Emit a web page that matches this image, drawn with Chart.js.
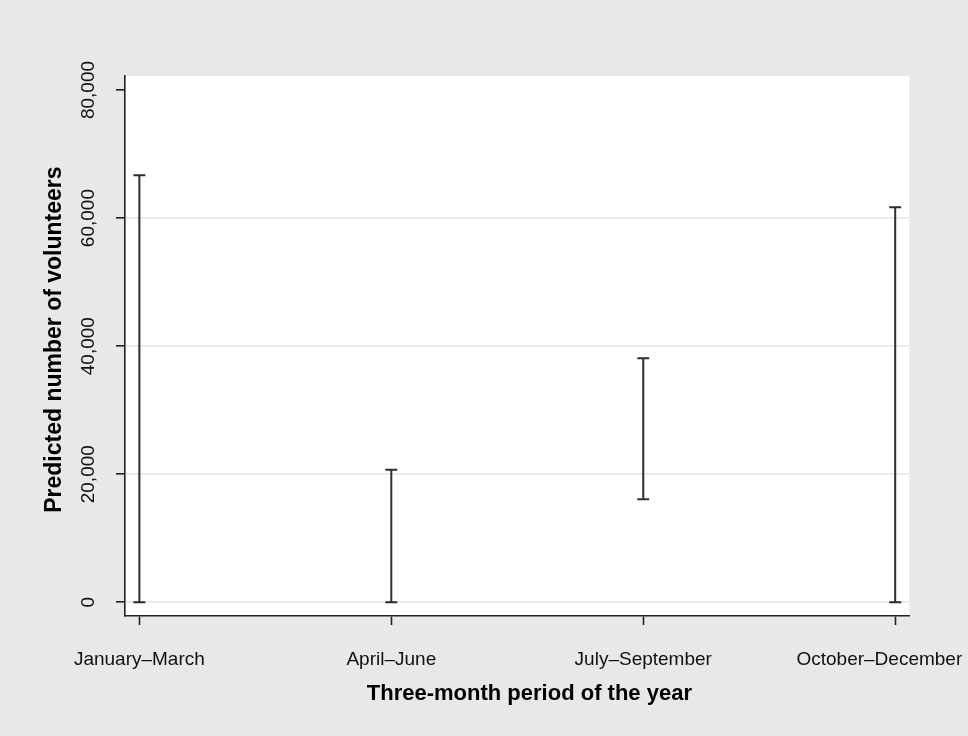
<!DOCTYPE html>
<html>
<head>
<meta charset="utf-8">
<script src="https://cdn.jsdelivr.net/npm/chart.js@4.4.1/dist/chart.umd.min.js"></script>
<style>
  body { margin: 0; background: #e8e8e8; }
  #wrap { width: 968px; height: 736px; }
</style>
</head>
<body>
<div id="wrap"><canvas id="range_chart"></canvas></div>
<script>

// ----------------- DATA ------------------------------------

let categories = ['January\u2013March', 'April\u2013June', 'July\u2013September', 'October\u2013December'];
let category_positions = [1, 2, 3, 4];
let low_values = [0, 0, 16100, 0];
let high_values = [66700, 20700, 38100, 61700];

let y_tick_values = [0, 20000, 40000, 60000, 80000];
let y_tick_labels = ['0', '20,000', '40,000', '60,000', '80,000'];

let datasets = [];
for (let i = 0; i < categories.length; i++) {
    datasets.push({
        label: categories[i],
        data: [
            { x: category_positions[i], y: low_values[i] },
            { x: category_positions[i], y: high_values[i] }
        ],
        showLine: true,
        borderColor: '#2e2e2e',
        borderWidth: 2,
        pointStyle: 'line',
        pointRadius: 6,
        pointBorderWidth: 2,
        pointBorderColor: '#2e2e2e'
    });
}

// white plot region on grey graph region
const backgrounds = {
    id: 'backgrounds',
    beforeDraw(chart) {
        const ctx = chart.ctx;
        const a = chart.chartArea;
        ctx.save();
        ctx.fillStyle = '#e8e8e8';
        ctx.fillRect(0, 0, chart.width, chart.height);
        ctx.fillStyle = '#ffffff';
        ctx.fillRect(a.left, a.top, a.right - a.left, a.bottom - a.top);
        ctx.restore();
    }
};

Chart.defaults.font.family = '"Liberation Sans", Arial, sans-serif';
Chart.defaults.color = '#111111';

var ctx = document.getElementById('range_chart').getContext('2d');
var range_chart = new Chart(ctx, {
    type: 'scatter',
    data: { datasets: datasets },
    plugins: [backgrounds],
    options: {
        responsive: true,
        maintainAspectRatio: false,
        devicePixelRatio: 1,
        animation: false,
        layout: {
            padding: { left: 0, right: 58.7, top: 76, bottom: 0 }
        },
        plugins: {
            legend: { display: false },
            tooltip: { enabled: false }
        },
        scales: {
            x: {
                type: 'linear',
                min: 0.943,
                max: 4.056,
                afterBuildTicks: function (scale) {
                    scale.ticks = category_positions.map(v => ({ value: v }));
                },
                afterFit: function (scale) {
                    scale.height = 120;
                    scale.paddingLeft = 0;
                    scale.paddingRight = 0;
                },
                grid: {
                    drawOnChartArea: false,
                    drawTicks: true,
                    tickLength: 9,
                    tickWidth: 1.6,
                    tickColor: '#222222'
                },
                border: { display: true, color: '#222222', width: 1.6 },
                ticks: {
                    padding: 23,
                    maxRotation: 0,
                    autoSkip: false,
                    font: { size: 19 },
                    callback: function (value) {
                        let idx = category_positions.indexOf(value);
                        if (idx === categories.length - 1) {
                            // keep the last label inside the canvas
                            return categories[idx] + '\u00A0\u00A0\u00A0\u00A0\u00A0\u00A0';
                        }
                        return idx >= 0 ? categories[idx] : '';
                    }
                },
                title: {
                    display: true,
                    text: '\u00A0\u00A0\u00A0\u00A0Three-month period of the year',
                    color: '#000000',
                    font: { size: 22, weight: 'bold' },
                    padding: { top: 0, bottom: 29 }
                }
            },
            y: {
                type: 'linear',
                min: -2140,
                max: 82190,
                afterBuildTicks: function (scale) {
                    scale.ticks = y_tick_values.map(v => ({ value: v }));
                },
                afterFit: function (scale) {
                    scale.width = 125;
                    scale.paddingTop = 0;
                    scale.paddingBottom = 0;
                },
                grid: {
                    drawOnChartArea: true,
                    drawTicks: true,
                    tickLength: 9,
                    tickWidth: 1.6,
                    tickColor: '#222222',
                    lineWidth: 1.6,
                    color: function (c) {
                        if (c.tick && c.tick.value === 80000) return 'rgba(0,0,0,0)';
                        return '#e3e3e3';
                    }
                },
                border: { display: true, color: '#222222', width: 1.6 },
                ticks: {
                    padding: -2,
                    minRotation: 90,
                    maxRotation: 90,
                    crossAlign: 'center',
                    font: { size: 19 },
                    callback: function (value) {
                        let idx = y_tick_values.indexOf(value);
                        return idx >= 0 ? y_tick_labels[idx] : '';
                    }
                },
                title: {
                    display: true,
                    text: '\u00A0\u00A0Predicted number of volunteers',
                    color: '#000000',
                    font: { size: 23, weight: 'bold' },
                    padding: { top: 41, bottom: 0 }
                }
            }
        }
    }
});
</script>
</body>
</html>
